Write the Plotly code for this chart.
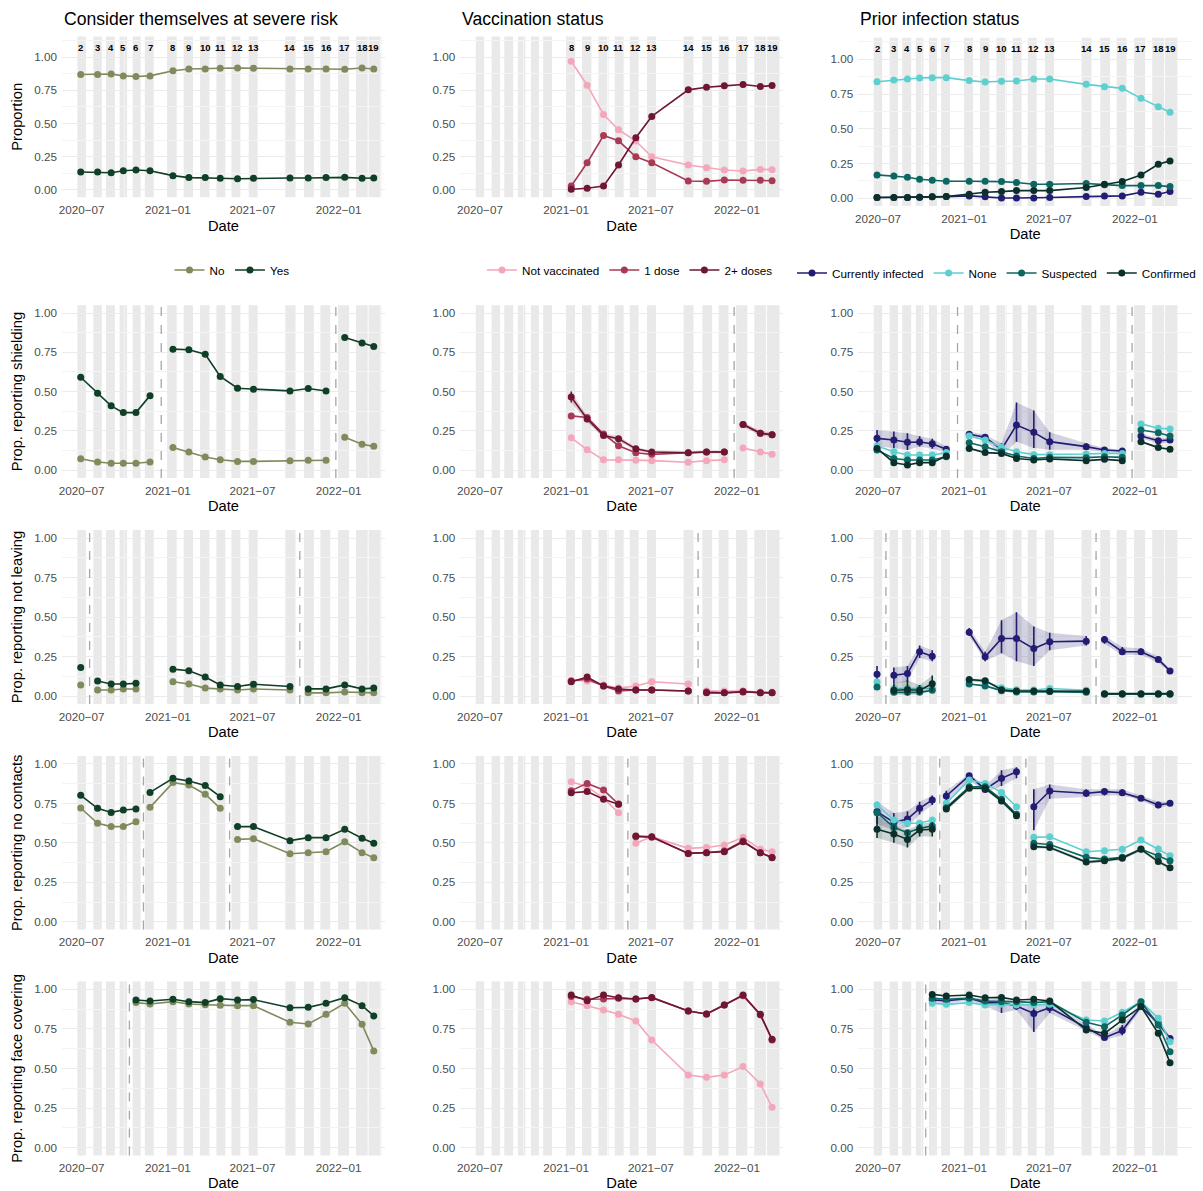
import plotly.graph_objects as go

FIG_W, FIG_H = 1203, 1191
FONT = "Liberation Sans, Arial, sans-serif"

# ---------------- survey waves ----------------
wave_nums = list(range(2, 20))
wave_dates = ["2020-06-29", "2020-08-04", "2020-09-02", "2020-09-28", "2020-10-25", "2020-11-24",
              "2021-01-12", "2021-02-15", "2021-03-22", "2021-04-23", "2021-05-30", "2021-07-03",
              "2021-09-19", "2021-10-28", "2021-12-05", "2022-01-14", "2022-02-20", "2022-03-17"]
band_start = ["2020-06-22", "2020-07-26", "2020-08-22", "2020-09-20", "2020-10-18", "2020-11-13",
              "2021-01-01", "2021-02-04", "2021-03-11", "2021-04-15", "2021-05-17", "2021-06-23",
              "2021-09-09", "2021-10-19", "2021-11-23", "2022-01-01", "2022-02-07", "2022-03-06"]
band_end = ["2020-07-10", "2020-08-13", "2020-09-10", "2020-10-06", "2020-11-04", "2020-12-02",
            "2021-01-20", "2021-02-24", "2021-03-30", "2021-05-04", "2021-06-05", "2021-07-12",
            "2021-10-01", "2021-11-09", "2021-12-14", "2022-01-23", "2022-03-04", "2022-04-02"]

tick_dates = ["2020-07-01", "2021-01-01", "2021-07-01", "2022-01-01"]
tick_labels = ["2020\u221207", "2021\u221201", "2021\u221207", "2022\u221201"]
minor_dates = ["2020-10-01", "2021-04-01", "2021-10-01", "2022-04-01"]
y_ticks = [0, 0.25, 0.5, 0.75, 1.0]
y_tick_labels = ["0.00", "0.25", "0.50", "0.75", "1.00"]

col_titles = ["Consider themselves at severe risk", "Vaccination status", "Prior infection status"]
row_titles = ["Proportion", "Prop. reporting shielding", "Prop. reporting not leaving",
              "Prop. reporting no contacts", "Prop. reporting face covering"]

risk_names = ["No", "Yes"]
vacc_names = ["Not vaccinated", "1 dose", "2+ doses"]
inf_names = ["Currently infected", "None", "Suspected", "Confirmed"]
risk_colors = ["#7f8b5c", "#0f3f27"]
vacc_colors = ["#f4a6ba", "#a83a56", "#6e1633"]
inf_colors = ["#221d72", "#5ecfcf", "#0c6762", "#0b302c"]

breaks_shield = ["2020-12-18", "2021-12-26"]
breaks_leave = ["2020-07-18", "2021-10-10"]
breaks_contact = ["2020-11-10", "2021-05-13"]
breaks_mask = ["2020-10-11"]

N = None
# ---------------- row 1: proportions ----------------
risk_no = [.868, .868, .872, .858, .853, .858, .897, .910, .910, .915, .917, .915, .910, .910, .910, .908, .917, .910]
risk_yes = [.135, .135, .130, .145, .150, .145, .108, .093, .093, .088, .085, .088, .090, .090, .093, .095, .088, .090]
vacc_none = [N] * 6 + [.968, .788, .568, .453, .368, .250, .188, .168, .150, .143, .155, .153]
vacc_one = [N] * 6 + [.030, .205, .410, .370, .250, .205, .068, .065, .075, .073, .073, .070]
vacc_two = [N] * 6 + [.005, .013, .030, .188, .393, .553, .753, .773, .783, .793, .778, .785]
inf_current = [.005, .005, .005, .007, .010, .012, .017, .010, .002, .002, .002, .005, .012, .017, .017, .043, .029, .048]
inf_none = [.839, .851, .858, .866, .868, .868, .847, .837, .842, .844, .858, .858, .820, .803, .791, .719, .659, .619]
inf_susp = [.168, .161, .151, .137, .129, .122, .122, .122, .120, .113, .101, .101, .106, .098, .091, .091, .091, .084]
inf_conf = [.005, .005, .005, .007, .010, .012, .029, .043, .048, .055, .055, .055, .077, .101, .120, .168, .245, .269]

# ---------------- row 2: shielding ----------------
sh_no = [.072, .051, .043, .043, .043, .051, .143, .115, .083, .066, .055, .055, .060, .062, .062, .209, .164, .151]
sh_yes = [.591, .489, .409, .366, .366, .474, .770, .766, .738, .596, .521, .515, .504, .519, .504, .845, .809, .787]
sh_vnone = [N] * 6 + [.205, .130, .065, .065, .063, .060, .050, .060, .065, .140, .115, .100]
sh_vone = [N] * 6 + [.345, .335, .230, .155, .110, .100, .110, .115, .115, .290, .235, .225]
sh_vtwo = [N] * 6 + [.465, .325, .220, .200, .135, .115, .110, .115, .115, .290, .235, .225]
sh_vtwo_lo = [N] * 6 + [.430, .305, .205, .185, .125, .105, .100, .105, .105, .275, .220, .210]
sh_vtwo_hi = [N] * 6 + [.500, .345, .235, .215, .145, .125, .120, .125, .125, .305, .250, .240]
sh_icur = [.202, .191, .177, .179, .168, .132, .228, .209, .132, .287, .240, .181, .149, .128, .121, .217, .187, .191]
sh_icur_lo = [.150, .140, .128, .150, .135, .115, .210, .190, .090, .180, .140, .130, .130, .115, .110, .200, .170, .175]
sh_icur_hi = [.255, .245, .234, .215, .200, .150, .245, .225, .170, .430, .380, .240, .170, .140, .130, .235, .200, .205]
sh_inone = [.153, .117, .096, .096, .096, .111, .217, .191, .145, .117, .098, .098, .102, .106, .106, .294, .266, .262]
sh_isusp = [.128, .074, .064, .064, .064, .085, .174, .149, .117, .089, .074, .081, .079, .085, .081, .255, .238, .217]
sh_iconf = [.138, .047, .032, .047, .047, .089, .138, .111, .106, .074, .064, .070, .060, .068, .060, .181, .143, .132]

# ---------------- row 3: not leaving ----------------
nl_no = [.070, .038, .038, .044, .044, N, .090, .076, .050, .044, .038, .044, .038, .020, .020, .025, .020, .020]
nl_yes = [.180, .095, .076, .076, .080, N, .170, .160, .120, .070, .060, .075, .060, .045, .045, .070, .045, .050]
nl_vnone = [N] * 6 + [.100, .095, .070, .050, .063, .090, .076, .032, .032, .032, .025, .025]
nl_vone = [N] * 6 + [.095, .108, .063, .032, .038, .038, .032, .025, .020, .030, .020, .020]
nl_vtwo = [N] * 6 + [.090, .120, .063, .044, .038, .038, .032, .020, .020, .025, .020, .020]
nl_icur = [.138, .131, .142, .280, .252, N, .403, .248, .364, .364, .300, .343, .347, .358, .280, .280, .231, .159]
nl_icur_lo = [.090, .080, .090, .240, .220, N, .380, .220, .270, .220, .190, .290, .320, .330, .260, .260, .210, .150]
nl_icur_hi = [.190, .180, .190, .320, .290, N, .430, .280, .480, .530, .440, .400, .380, .380, .310, .300, .250, .170]
nl_inone = [.089, .047, .047, .047, .047, N, .100, .093, .053, .040, .038, .047, .036, .013, .013, .013, .013, .013]
nl_isusp = [.057, .023, .023, .023, .036, N, .076, .064, .034, .025, .025, .028, .023, .011, .011, .011, .011, .011]
nl_iconf = [N, .036, .040, .036, .078, N, .104, .097, .040, .032, .032, .030, .030, .015, .015, .015, .015, .015]
nl_iconf_lo = [N, .010, .005, .010, .030, N, .095, .088, .034, .027, .027, .025, .025, .012, .012, .012, .012, .012]
nl_iconf_hi = [N, .080, .100, .070, .130, N, .113, .106, .046, .037, .037, .035, .035, .018, .018, .018, .018, .018]

# ---------------- row 4: no contacts ----------------
nc_no = [.721, .624, .603, .603, .634, .725, .882, .867, .808, .719, .522, .526, .431, .438, .444, .507, .438, .406]
nc_yes = [.801, .719, .693, .708, .715, .820, .909, .892, .863, .793, .603, .603, .514, .533, .533, .586, .529, .497]
nc_vnone = [N] * 6 + [.888, .856, .782, .691, .497, .539, .465, .471, .486, .535, .459, .444]
nc_vone = [N] * 6 + [.831, .877, .835, .746, .539, .535, .433, .438, .448, .512, .438, .408]
nc_vtwo = [N] * 6 + [.818, .825, .776, .744, .543, .539, .433, .438, .444, .507, .438, .406]
nc_icur = [.698, .630, .651, .719, .772, .797, .926, .839, .909, .951, .729, .829, .814, .825, .818, .782, .740, .751]
nc_icur_lo = [.620, .580, .600, .680, .740, .760, .900, .820, .860, .910, .580, .780, .790, .800, .800, .770, .720, .740]
nc_icur_hi = [.760, .690, .700, .760, .800, .830, .940, .860, .960, .980, .840, .870, .840, .840, .840, .800, .760, .760]
nc_inone = [.740, .645, .624, .624, .645, .751, .899, .877, .820, .729, .535, .539, .444, .450, .459, .518, .461, .419]
nc_isusp = [.691, .598, .564, .592, .607, .723, .856, .856, .776, .681, .497, .490, .408, .397, .408, .461, .416, .387]
nc_iconf = [.586, .556, .522, .581, .586, .715, .846, .846, .765, .672, .476, .471, .378, .387, .402, .459, .381, .342]
nc_iconf_lo = [.530, .500, .470, .540, .540, .700, .835, .835, .752, .660, .466, .461, .368, .377, .392, .449, .371, .332]
nc_iconf_hi = [.670, .610, .580, .620, .630, .730, .857, .857, .778, .684, .486, .481, .388, .397, .412, .469, .391, .352]

# ---------------- row 5: face covering ----------------
fc_no = [N] * 4 + [.916, .907, .922, .907, .903, .899, .897, .897, .792, .781, .842, .912, .779, .611]
fc_yes = [N] * 4 + [.933, .926, .937, .922, .916, .941, .933, .935, .884, .886, .912, .947, .897, .832]
fc_vnone = [N] * 6 + [.922, .897, .869, .842, .800, .680, .459, .444, .459, .512, .402, .255]
fc_vone = [N] * 6 + [.954, .937, .939, .943, .939, .947, .863, .844, .901, .960, .838, .680]
fc_vtwo = [N] * 6 + [.964, .928, .964, .947, .939, .949, .863, .844, .901, .964, .842, .684]
fc_icur = [N] * 4 + [.933, .928, .943, .916, .916, .895, .848, .884, .758, .695, .740, .891, .785, .690]
fc_icur_lo = [N] * 4 + [.915, .910, .930, .895, .850, .870, .730, .850, .735, .680, .710, .875, .770, .675]
fc_icur_hi = [N] * 4 + [.950, .945, .955, .935, .940, .920, .900, .920, .780, .710, .775, .905, .800, .705]
fc_inone = [N] * 4 + [.912, .905, .916, .901, .905, .901, .901, .905, .806, .800, .855, .922, .817, .669]
fc_isusp = [N] * 4 + [.943, .937, .943, .926, .922, .922, .916, .922, .792, .764, .838, .922, .775, .606]
fc_iconf = [N] * 4 + [.968, .958, .964, .947, .949, .933, .937, .926, .743, .722, .806, .891, .722, .537]

# ---------------- panel definitions (built from the arrays above) ----------------
def S(values, lo=None, hi=None):
    return {"y": values, "lo": lo, "hi": hi}

panels = [
    (0, 0, [S(risk_no), S(risk_yes)], []),
    (0, 1, [S(vacc_none), S(vacc_one), S(vacc_two)], []),
    (0, 2, [S(inf_current), S(inf_none), S(inf_susp), S(inf_conf)], []),
    (1, 0, [S(sh_no), S(sh_yes)], breaks_shield),
    (1, 1, [S(sh_vnone), S(sh_vone), S(sh_vtwo, sh_vtwo_lo, sh_vtwo_hi)], breaks_shield),
    (1, 2, [S(sh_icur, sh_icur_lo, sh_icur_hi), S(sh_inone), S(sh_isusp), S(sh_iconf)], breaks_shield),
    (2, 0, [S(nl_no), S(nl_yes)], breaks_leave),
    (2, 1, [S(nl_vnone), S(nl_vone), S(nl_vtwo)], breaks_leave),
    (2, 2, [S(nl_icur, nl_icur_lo, nl_icur_hi), S(nl_inone), S(nl_isusp), S(nl_iconf, nl_iconf_lo, nl_iconf_hi)], breaks_leave),
    (3, 0, [S(nc_no), S(nc_yes)], breaks_contact),
    (3, 1, [S(nc_vnone), S(nc_vone), S(nc_vtwo)], breaks_contact),
    (3, 2, [S(nc_icur, nc_icur_lo, nc_icur_hi), S(nc_inone), S(nc_isusp), S(nc_iconf, nc_iconf_lo, nc_iconf_hi)], breaks_contact),
    (4, 0, [S(fc_no), S(fc_yes)], breaks_mask),
    (4, 1, [S(fc_vnone), S(fc_vone), S(fc_vtwo)], breaks_mask),
    (4, 2, [S(fc_icur, fc_icur_lo, fc_icur_hi), S(fc_inone), S(fc_isusp), S(fc_iconf)], breaks_mask),
]

col_names = [risk_names, vacc_names, inf_names]
col_colors = [risk_colors, vacc_colors, inf_colors]
col_legend = ["legend", "legend2", "legend3"]

# ---------------- layout geometry (pixels) ----------------
col_px = [(62, 385), (460.3, 783.3), (858.3, 1192)]
x_ranges = [["2020-05-20", "2022-04-10"], ["2020-05-20", "2022-04-10"], ["2020-05-20", "2022-05-03"]]
row_px = [(36.4, 197.3), (305.2, 477.9), (530.1, 703.9), (756.1, 929.6), (981.4, 1155.6)]
row1_col3_px = (37.8, 205.9)


def hex_rgba(h, a):
    h = h.lstrip("#")
    return "rgba(%d,%d,%d,%.2f)" % (int(h[0:2], 16), int(h[2:4], 16), int(h[4:6], 16), a)


fig = go.Figure()
layout = dict(
    width=FIG_W, height=FIG_H,
    margin=dict(l=0, r=0, t=0, b=0, autoexpand=False),
    paper_bgcolor="white", plot_bgcolor="white",
    font=dict(family=FONT, color="#000000"),
    showlegend=True,
)
shapes = []
annotations = []

for (r, c, series, brks) in panels:
    idx = r * 3 + c + 1
    xa = "x" if idx == 1 else "x%d" % idx
    ya = "y" if idx == 1 else "y%d" % idx
    xkey = "xaxis" if idx == 1 else "xaxis%d" % idx
    ykey = "yaxis" if idx == 1 else "yaxis%d" % idx

    top, bot = row_px[r]
    if r == 0 and c == 2:
        top, bot = row1_col3_px
    x0, x1 = col_px[c]
    yr = [-0.055, 1.155] if r == 0 else [-0.05, 1.05]
    minor_y = [0.125, 0.375, 0.625, 0.875] + ([1.125] if r == 0 else [])

    layout[xkey] = dict(
        domain=[x0 / FIG_W, x1 / FIG_W], anchor=ya, type="date", range=x_ranges[c],
        tickvals=tick_dates, ticktext=tick_labels, ticks="", showline=False, zeroline=False,
        showgrid=True, gridcolor="#ebebeb", gridwidth=1,
        minor=dict(tickvals=minor_dates, showgrid=True, gridcolor="#f4f4f4", gridwidth=0.6),
        tickfont=dict(size=11.7, color="#4d4d4d", family=FONT),
        ticklabelstandoff=4,
        title=dict(text="Date", font=dict(size=14.7, color="#000000", family=FONT), standoff=5),
        fixedrange=True,
    )
    layout[ykey] = dict(
        domain=[1 - bot / FIG_H, 1 - top / FIG_H], anchor=xa, range=yr,
        tickvals=y_ticks, ticktext=y_tick_labels, ticks="", showline=False, zeroline=False,
        showgrid=True, gridcolor="#ebebeb", gridwidth=1,
        minor=dict(tickvals=minor_y, showgrid=True, gridcolor="#f4f4f4", gridwidth=0.6),
        tickfont=dict(size=11.7, color="#4d4d4d", family=FONT),
        ticklabelstandoff=4,
        fixedrange=True,
    )
    if c == 0:
        layout[ykey]["title"] = dict(text=row_titles[r], font=dict(size=14.7, color="#000000", family=FONT), standoff=8)

    # survey wave bands
    for bs, be in zip(band_start, band_end):
        shapes.append(dict(type="rect", xref=xa, yref=ya + " domain", x0=bs, x1=be, y0=0, y1=1,
                           fillcolor="#e9e9e9", line=dict(width=0), layer="below"))

    first_d = min(wave_dates[i] for s in series for i, v in enumerate(s["y"]) if v is not None)
    # question-change markers
    for b in brks:
        if c == 1 and b < first_d:
            continue
        shapes.append(dict(type="line", xref=xa, yref=ya + " domain", x0=b, x1=b, y0=0, y1=1,
                           line=dict(color="#a6a6a6", width=1.3, dash="dash"), layer="above"))

    # wave labels on the first row
    if r == 0:
        for w, d in zip(wave_nums, wave_dates):
            if d < first_d:
                continue
            annotations.append(dict(x=d, y=1.075, xref=xa, yref=ya, text="<b>%d</b>" % w, showarrow=False,
                                    font=dict(size=9.5, color="#000000", family=FONT)))

    names = col_names[c]
    colors = col_colors[c]
    for k, s in enumerate(series):
        col = colors[k]
        segs = []
        cur = []
        for i, v in enumerate(s["y"]):
            if v is None:
                if cur:
                    segs.append(cur)
                cur = []
                continue
            if cur and any(wave_dates[cur[-1]] < b <= wave_dates[i] for b in brks):
                segs.append(cur)
                cur = []
            cur.append(i)
        if cur:
            segs.append(cur)

        if s["lo"] is not None:
            for seg in segs:
                if len(seg) < 2:
                    continue
                xs = [wave_dates[i] for i in seg] + [wave_dates[i] for i in reversed(seg)]
                ys = [s["hi"][i] for i in seg] + [s["lo"][i] for i in reversed(seg)]
                fig.add_trace(go.Scatter(x=xs, y=ys, xaxis=xa, yaxis=ya, mode="lines", fill="toself",
                                         fillcolor=hex_rgba(col, 0.2), line=dict(width=0),
                                         hoverinfo="skip", showlegend=False))

        xs, ys, ep, em = [], [], [], []
        for j, seg in enumerate(segs):
            if j > 0:
                xs.append(None); ys.append(None); ep.append(None); em.append(None)
            for i in seg:
                xs.append(wave_dates[i])
                ys.append(s["y"][i])
                if s["lo"] is not None:
                    ep.append(s["hi"][i] - s["y"][i])
                    em.append(s["y"][i] - s["lo"][i])
        tr = dict(x=xs, y=ys, xaxis=xa, yaxis=ya, mode="lines+markers", name=names[k],
                  line=dict(color=col, width=1.6), marker=dict(color=col, size=7),
                  connectgaps=False, legend=col_legend[c], legendgroup="%s-%d" % (col_legend[c], k),
                  showlegend=(r == 0))
        if s["lo"] is not None:
            tr["error_y"] = dict(type="data", array=ep, arrayminus=em, symmetric=False,
                                 color=col, thickness=1.6, width=0)
        fig.add_trace(go.Scatter(**tr))

for c, t in enumerate(col_titles):
    annotations.append(dict(x=col_px[c][0] / FIG_W, y=1 - 19 / FIG_H, xref="paper", yref="paper",
                            text=t, showarrow=False, xanchor="left", yanchor="middle",
                            font=dict(size=17.6, color="#000000", family=FONT)))

leg_common = dict(orientation="h", yanchor="middle", bgcolor="rgba(0,0,0,0)",
                  font=dict(size=11.7, color="#000000", family=FONT), itemwidth=30,
                  itemclick=False, itemdoubleclick=False)
layout["legend"] = dict(x=232 / FIG_W, xanchor="center", y=1 - 270 / FIG_H, **leg_common)
layout["legend2"] = dict(x=630 / FIG_W, xanchor="center", y=1 - 270 / FIG_H, **leg_common)
layout["legend3"] = dict(x=1201 / FIG_W, xanchor="right", y=1 - 273 / FIG_H, **leg_common)
layout["shapes"] = shapes
layout["annotations"] = annotations

fig.update_layout(**layout)
fig.write_html("out.html")
